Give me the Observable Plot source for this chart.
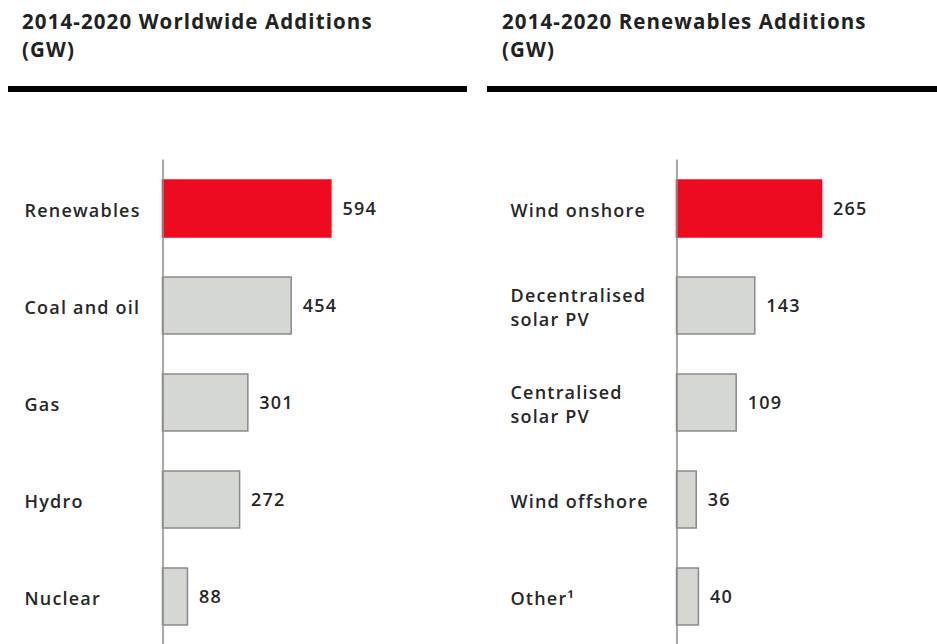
<!DOCTYPE html>
<html><head><meta charset="utf-8">
<script src="https://cdn.jsdelivr.net/npm/d3@7"></script>
<script src="https://cdn.jsdelivr.net/npm/@observablehq/plot@0.6"></script>
<style>
body{margin:0;background:#fff;width:937px;height:644px;overflow:hidden;position:relative;font-family:"Open Sans",sans-serif;}
.panel{position:absolute;top:0;height:644px;}
.title{position:absolute;top:7px;font-size:20.5px;font-weight:700;line-height:28px;letter-spacing:1.1px;color:#222;white-space:nowrap}
.rule{position:absolute;top:86px;height:6px;background:#000}
.chart{position:absolute;top:100px;left:0}
</style></head><body>
<div class="panel" style="left:0;width:470px">
 <div class="title" style="left:22px">2014-2020 Worldwide Additions<br>(GW)</div>
 <div class="rule" style="left:8px;width:459px"></div>
 <div class="chart" id="chartL"></div>
</div>
<div class="panel" style="left:470px;width:467px">
 <div class="title" style="left:32px">2014-2020 Renewables Additions<br>(GW)</div>
 <div class="rule" style="left:17px;width:450px"></div>
 <div class="chart" id="chartR"></div>
</div>
<script>
const worldCategories = ["Renewables", "Coal and oil", "Gas", "Hydro", "Nuclear"];
const worldValues = [594, 454, 301, 272, 88];
const renewCategories = ["Wind onshore", "Decentralised\nsolar PV", "Centralised\nsolar PV", "Wind offshore", "Other¹"];
const renewValues = [265, 143, 109, 36, 40];
const highlightIndex = 0;

const RED = "#ee0a1f", GREY = "#d4d7d2", GREY_STROKE = "#8a8a8a", TEXT = "#272727";

function panel(cats, vals, opts) {
  const data = cats.map((c, i) => ({cat: c, value: vals[i], hl: i === highlightIndex}));
  return Plot.plot({
    width: opts.width,
    height: 546,
    marginTop: 59.5,
    marginBottom: 0,
    marginLeft: opts.marginLeft,
    marginRight: opts.marginRight,
    x: {domain: [0, opts.xMax], axis: null},
    y: {domain: cats, axis: null, paddingInner: 0.41, paddingOuter: 0.205},
    color: {type: "identity"},
    style: {fontFamily: '"Open Sans", sans-serif', fontSize: "18px", letterSpacing: "1.2px", color: TEXT, background: "#fff", overflow: "visible"},
    marks: [
      Plot.barX(data, {x: "value", y: "cat", fill: d => d.hl ? RED : GREY, stroke: d => d.hl ? RED : GREY_STROKE, strokeWidth: 1.5}),
      Plot.ruleX([0], {stroke: "#8c8c8c", strokeWidth: 1.5}),
      Plot.text(data, {x: "value", y: "cat", text: d => String(d.value), dx: 11, textAnchor: "start", fontWeight: 600, fill: TEXT}),
      Plot.text(data, {y: "cat", text: "cat", frameAnchor: "left", dx: opts.labelDx, textAnchor: "start", lineHeight: 1.35, fontWeight: 600, fill: TEXT})
    ]
  });
}

document.getElementById("chartL").append(panel(worldCategories, worldValues, {width: 470, marginLeft: 162.5, marginRight: 24, xMax: 1000, labelDx: -138.5}));
document.getElementById("chartR").append(panel(renewCategories, renewValues, {width: 467, marginLeft: 206.5, marginRight: 12.5, xMax: 453, labelDx: -166.5}));
</script>
</body></html>
